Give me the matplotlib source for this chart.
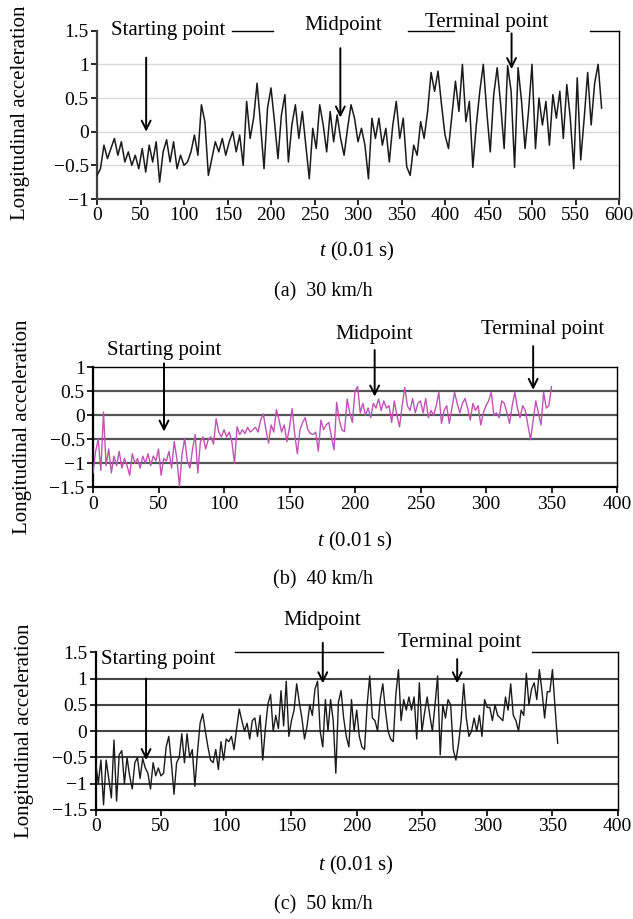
import numpy as np
import matplotlib
matplotlib.use("Agg")
import matplotlib.pyplot as plt

plt.rcParams['font.family'] = ['Liberation Serif', 'DejaVu Serif']
plt.rcParams['mathtext.fontset'] = 'custom'
plt.rcParams['mathtext.it'] = 'Liberation Serif:italic'
plt.rcParams['mathtext.rm'] = 'Liberation Serif'

# ---------------- data ----------------
a_step = 4
a_vals = [-0.65, -0.55, -0.2, -0.4, -0.25, -0.1, -0.35, -0.15, -0.45, -0.3,
          -0.5, -0.35, -0.55, -0.25, -0.6, -0.2, -0.45, -0.15, -0.75, -0.3,
          -0.12, -0.45, -0.15, -0.55, -0.35, -0.5, -0.45, -0.3, -0.05, -0.35,
          0.4, 0.15, -0.65, -0.4, -0.15, -0.3, -0.1, -0.35, -0.15, 0.0,
          -0.3, -0.05, -0.5, 0.45, -0.1, 0.2, 0.72, 0.1, -0.55, 0.35,
          0.65, 0.15, -0.4, 0.25, 0.55, -0.45, 0.1, 0.4, -0.1, 0.3,
          -0.2, -0.7, 0.05, -0.25, 0.4, 0.1, -0.3, 0.3, -0.15, 0.25,
          -0.1, -0.35, 0.05, 0.4, 0.2, -0.15, 0.05, -0.2, -0.7, 0.2,
          -0.1, 0.2, -0.2, 0.05, -0.45, 0.1, 0.45, -0.1, 0.2, -0.52,
          -0.65, -0.2, -0.35, 0.15, -0.1, 0.3, 0.88, 0.6, 0.9, 0.4,
          -0.05, -0.25, 0.25, 0.75, 0.3, 1.0, 0.15, 0.45, -0.53, 0.1,
          0.6, 1.0, 0.3, -0.3, 0.55, 0.95, 0.4, -0.25, 0.98, 0.6,
          -0.53, 0.95, 0.45, -0.25, 0.3, 1.0, -0.25, 0.5, 0.1, 0.45,
          -0.2, 0.55, 0.2, 0.6, -0.1, 0.7, 0.2, -0.55, 0.8, -0.42,
          0.2, 0.88, 0.1, 0.72, 1.0, 0.35]

b_step = 2
b_vals = [-1.2, -0.75, -0.5, -1.15, 0.07, -1.05, -0.7, -1.2, -0.85, -1.05,
          -0.75, -1.1, -0.9, -1.05, -1.25, -0.8, -1.0, -0.9, -1.1, -0.85,
          -1.0, -0.8, -1.05, -0.85, -0.95, -0.7, -1.25, -0.9, -0.95, -0.75,
          -1.1, -0.55, -0.9, -1.48, -0.8, -0.48, -0.95, -1.1, -0.7, -0.4,
          -1.2, -0.55, -0.45, -0.7, -0.5, -0.45, -0.6, -0.07, -0.35, -0.45,
          -0.3, -0.45, -0.35, -0.55, -1.0, -0.24, -0.4, -0.3, -0.38, -0.25,
          -0.35, -0.3, -0.25, -0.35, -0.1, 0.03, -0.3, -0.58, -0.2, -0.35,
          0.12, -0.1, -0.35, -0.2, -0.55, -0.25, 0.14, -0.4, -0.8, -0.3,
          -0.15, -0.05, -0.3, -0.38, -0.4, -0.35, -0.75, -0.1, -0.3, -0.2,
          -0.15, -0.45, -0.72, 0.27, -0.1, -0.3, -0.34, 0.34, 0.05, -0.15,
          0.5, 0.6, 0.05, 0.25, 0.0, 0.15, -0.05, 0.25, 0.15, 0.34,
          0.1, 0.3, 0.15, 0.2, -0.15, 0.3, 0.0, -0.24, 0.2, 0.58,
          0.2, 0.1, 0.35, 0.05, 0.25, 0.3, 0.05, 0.35, -0.05, 0.1,
          0.0, 0.2, 0.48, -0.17, 0.1, 0.2, -0.17, 0.15, 0.48, 0.25,
          0.05, 0.25, 0.35, 0.15, -0.1, 0.25, 0.1, 0.2, -0.2, 0.05,
          0.2, 0.3, 0.48, 0.0, 0.05, -0.05, 0.3, 0.25, 0.05, -0.17,
          0.2, 0.48, 0.15, -0.05, 0.2, 0.1, -0.2, -0.51, -0.1, 0.3,
          0.05, -0.2, 0.48, 0.15, 0.2, 0.6]

c_step = 2
c_vals = [-0.6, -1.0, -0.55, -1.4, -0.55, -0.9, -1.27, -0.17, -1.33, -0.45,
          -0.37, -1.0, -0.5, -0.85, -1.1, -0.6, -0.5, -0.9, -0.52, -0.7,
          -0.8, -1.1, -0.6, -0.85, -0.7, -0.85, -0.8, -0.3, -0.1, -0.6,
          -1.2, -0.6, -0.5, -0.05, -0.6, -0.05, -0.5, -0.35, -1.05, -0.4,
          0.15, 0.33, 0.0, -0.3, -0.55, -0.6, -0.35, -0.73, -0.2, -0.55,
          -0.15, -0.2, -0.1, -0.35, 0.05, 0.42, 0.2, 0.0, 0.15, -0.15,
          0.2, 0.25, -0.1, 0.3, -0.55, 0.05, 0.52, 0.7, 0.0, 0.3,
          0.05, 0.77, 0.1, 0.95, -0.1, 0.2, 0.4, 0.9, 0.55, 0.25,
          -0.15, 0.1, 0.5, 0.3, 0.8, 0.95, 0.0, -0.3, 0.6, 0.0,
          0.6, 0.2, -0.8, 0.55, 0.77, 0.25, -0.1, -0.3, 0.6, 0.0,
          0.4, -0.1, -0.3, -0.35, 0.5, 1.05, 0.25, 0.2, 0.0, 0.6,
          0.9, 0.4, 0.0, -0.15, -0.2, 0.7, 1.17, 0.2, 0.6, 0.4,
          0.65, 0.4, 0.65, -0.15, 0.92, 0.0, 0.35, 0.65, 0.3, 0.0,
          0.5, 1.05, -0.45, 0.5, 0.25, 0.6, 0.5, -0.35, -0.55, -0.25,
          0.2, 0.9, 0.25, -0.1, 0.0, 0.25, 0.0, 0.3, -0.1, 0.6,
          0.45, 0.45, 0.2, 0.5, 0.3, 0.25, 0.2, 0.65, 0.4, 0.9,
          0.3, 0.2, 0.0, 0.4, 0.3, 1.1, 0.5, 0.8, 0.92, 0.6,
          1.17, 0.75, 0.25, 0.75, 0.75, 1.17, 0.45, -0.23]

a_yticks = [-1, -0.5, 0, 0.5, 1, 1.5]
a_ylabels = ['\u22121', '\u22120.5', '0', '0.5', '1', '1.5']
a_xticks = list(range(0, 601, 50))
bc_yticks = [-1.5, -1, -0.5, 0, 0.5, 1]
bc_ylabels = ['\u22121.5', '\u22121', '\u22120.5', '0', '0.5', '1']
c_yticks = [-1.5, -1, -0.5, 0, 0.5, 1, 1.5]
c_ylabels = ['\u22121.5', '\u22121', '\u22120.5', '0', '0.5', '1', '1.5']
bc_xticks = list(range(0, 401, 50))

labels = ['Starting point', 'Midpoint', 'Terminal point']
captions = ['(a)  30 km/h', '(b)  40 km/h', '(c)  50 km/h']
ylabel = 'Longitudinal acceleration'
xlabel = '$t$ (0.01 s)'

# ---------------- figure ----------------
W, H = 633, 919
fig = plt.figure(figsize=(W / 100, H / 100), dpi=100)


def rect(x0, x1, ytop, ybot):
    return [x0 / W, 1 - ybot / H, (x1 - x0) / W, (ybot - ytop) / H]


TFS = 14     # tick labels
LFS = 15     # annotation labels
AFS = 15     # axis labels
CFS = 14.5   # captions

ax_a = fig.add_axes(rect(97, 619, 30.7, 199))
ax_b = fig.add_axes(rect(93, 617, 367.3, 487.3))
ax_c = fig.add_axes(rect(95.7, 617.7, 652.3, 810))


def style(ax, xticks, yticks, ylabels, xlim, ylim, gridcolor, gridlw, spinecol):
    ax.set_xlim(*xlim)
    ax.set_ylim(*ylim)
    ax.set_xticks(xticks)
    ax.set_xticklabels([str(v) for v in xticks], fontsize=TFS)
    ax.set_yticks(yticks)
    ax.set_yticklabels(ylabels, fontsize=TFS)
    ax.tick_params(direction='out', length=4, width=1.2, pad=2, colors='black')
    for v in yticks[1:-1]:
        ax.axhline(v, color=gridcolor, lw=gridlw, zorder=1)
    for s in ['left', 'bottom']:
        ax.spines[s].set_color(spinecol)
        ax.spines[s].set_linewidth(1.6)
    ax.spines['right'].set_color('black')
    ax.spines['right'].set_linewidth(1.0)
    ax.spines['top'].set_color('black')
    ax.spines['top'].set_linewidth(1.0)


def arrow(ax, x, y0, y1):
    ax.annotate('', xy=(x, y1), xytext=(x, y0),
                arrowprops=dict(arrowstyle='->', lw=1.4, color='black',
                                mutation_scale=16, shrinkA=0, shrinkB=0),
                annotation_clip=False, zorder=5)


def ftext(px, py, s, **kw):
    fig.text(px / W, 1 - py / H, s, ha='center', va='center', **kw)


# Panel a
ta = np.arange(len(a_vals)) * a_step
style(ax_a, a_xticks, a_yticks, a_ylabels, (0, 600), (-1, 1.5), '#d9d9d9', 1.0, '#404040')
ax_a.plot(ta, a_vals, color='#1a1a1a', lw=1.1, zorder=3)
ax_a.spines['top'].set_visible(False)
for x0, x1 in [(155, 202), (357.5, 410), (566.7, 600)]:
    ax_a.plot([x0, x1], [1.5, 1.5], color='black', lw=1.0, clip_on=False)
ax_a.text(81.6, 1.5, labels[0], ha='center', va='center', fontsize=LFS)
ax_a.text(283, 1.58, labels[1], ha='center', va='center', fontsize=LFS)
ax_a.text(448, 1.62, labels[2], ha='center', va='center', fontsize=LFS)
arrow(ax_a, 56.5, 1.1, 0.0)
arrow(ax_a, 279.7, 1.24, 0.21)
arrow(ax_a, 476.5, 1.46, 0.93)

# Panel b
tb = np.arange(len(b_vals)) * b_step
style(ax_b, bc_xticks, bc_yticks, bc_ylabels, (0, 400), (-1.5, 1), '#555555', 1.6, 'black')
ax_b.plot(tb, b_vals, color='#c052b4', lw=1.0, zorder=3)
ax_b.text(54.3, 1.36, labels[0], ha='center', va='center', fontsize=LFS)
ax_b.text(214.8, 1.69, labels[1], ha='center', va='center', fontsize=LFS)
ax_b.text(343.6, 1.78, labels[2], ha='center', va='center', fontsize=LFS)
arrow(ax_b, 54.2, 1.08, -0.34)
arrow(ax_b, 215, 1.36, 0.39)
arrow(ax_b, 336, 1.44, 0.53)

# Panel c
tc = np.arange(len(c_vals)) * c_step
style(ax_c, bc_xticks, c_yticks, c_ylabels, (0, 400), (-1.5, 1.5), '#444444', 1.5, 'black')
ax_c.plot(tc, c_vals, color='#1a1a1a', lw=1.0, zorder=3)
ax_c.spines['top'].set_visible(False)
for x0, x1 in [(107, 220), (334, 400)]:
    ax_c.plot([x0, x1], [1.5, 1.5], color='black', lw=1.0, clip_on=False)
ax_c.text(4, 1.37, labels[0], ha='left', va='center', fontsize=LFS,
          bbox=dict(facecolor='white', edgecolor='none', pad=1), zorder=6)
ax_c.text(173.4, 2.11, labels[1], ha='center', va='center', fontsize=LFS)
ax_c.text(278.5, 1.68, labels[2], ha='center', va='center', fontsize=LFS)
arrow(ax_c, 38.6, 1.0, -0.55)
arrow(ax_c, 174, 1.68, 0.91)
arrow(ax_c, 277, 1.37, 0.91)

# axis labels and captions (pixel positions)
for (yx, yy), (xx, xy), (cx, cy), cap in zip(
        [(21, 113), (23, 427), (25, 731)],
        [(357, 251.7), (355, 541.7), (356, 865)],
        [(323, 292), (323, 580), (323, 905)],
        captions):
    ftext(yx, yy, ylabel, rotation=90, fontsize=AFS)
    ftext(xx, xy, xlabel, fontsize=AFS)
    ftext(cx, cy, cap, fontsize=CFS)

fig.savefig('out.png', dpi=100)
